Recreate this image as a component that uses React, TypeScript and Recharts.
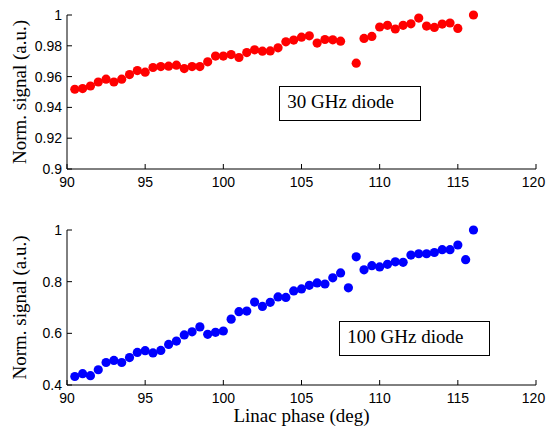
import { ScatterChart, Scatter, XAxis, YAxis } from 'recharts';

// linac phase (deg) and normalised signal
const phase30 = [
  90.5, 91, 91.5, 92, 92.5, 93, 93.5, 94, 94.5, 95, 95.5, 96, 96.5, 97, 97.5, 98, 98.5, 99,
  99.5, 100, 100.5, 101, 101.5, 102, 102.5, 103, 103.5, 104, 104.5, 105, 105.5, 106, 106.5,
  107, 107.5, 108.5, 109, 109.5, 110, 110.5, 111, 111.5, 112, 112.5, 113, 113.5, 114, 114.5,
  115, 116,
];
const signal30 = [
  0.9518, 0.9522, 0.9539, 0.9565, 0.9583, 0.9565, 0.9583, 0.9613, 0.9639, 0.9629, 0.9659,
  0.9665, 0.9668, 0.9674, 0.9652, 0.9665, 0.9665, 0.9696, 0.9733, 0.9733, 0.9743, 0.9724,
  0.9756, 0.9774, 0.9765, 0.9767, 0.9787, 0.9826, 0.9837, 0.9856, 0.9865, 0.9818, 0.9841,
  0.9839, 0.983, 0.9687, 0.9848, 0.9861, 0.9922, 0.9933, 0.9909, 0.9933, 0.9943, 0.998,
  0.9928, 0.9919, 0.9941, 0.9948, 0.9913, 1.0,
];

const phase100 = [
  90.5, 91, 91.5, 92, 92.5, 93, 93.5, 94, 94.5, 95, 95.5, 96, 96.5, 97, 97.5, 98, 98.5, 99,
  99.5, 100, 100.5, 101, 101.5, 102, 102.5, 103, 103.5, 104, 104.5, 105, 105.5, 106, 106.5,
  107, 107.5, 108, 108.5, 109, 109.5, 110, 110.5, 111, 111.5, 112, 112.5, 113, 113.5, 114,
  114.5, 115, 115.5, 116,
];
const signal100 = [
  0.433, 0.444, 0.436, 0.459, 0.487, 0.495, 0.487, 0.506, 0.526, 0.533, 0.524, 0.534, 0.557,
  0.57, 0.594, 0.606, 0.625, 0.596, 0.604, 0.609, 0.655, 0.684, 0.686, 0.721, 0.704, 0.72,
  0.741, 0.739, 0.764, 0.772, 0.786, 0.795, 0.791, 0.815, 0.834, 0.776, 0.896, 0.846, 0.862,
  0.857, 0.867, 0.877, 0.875, 0.903, 0.908, 0.908, 0.913, 0.924, 0.924, 0.942, 0.885, 1.0,
];

const phaseTicks = [90, 95, 100, 105, 110, 115, 120];
const ticks30 = [0.9, 0.92, 0.94, 0.96, 0.98, 1];
const ticks100 = [0.4, 0.6, 0.8, 1];

const sans = '"Liberation Sans", Arial, Helvetica, sans-serif';
const serif = '"Liberation Serif", "Times New Roman", serif';

const dot = (color: string) => (props: any) => (
  <circle cx={props.cx} cy={props.cy} r={4.6} fill={color} />
);

// x tick label; the last one is nudged left so it stays inside the page
const PhaseTick = (props: any) => {
  const { x, y, payload } = props;
  const last = payload.value === phaseTicks[phaseTicks.length - 1];
  return (
    <text x={last ? x - 2.5 : x} y={y} dy="0.71em" textAnchor="middle" fontSize={14} fontFamily={sans} fill="#000">
      {payload.value}
    </text>
  );
};

interface PanelProps {
  xs: number[];
  ys: number[];
  color: string;
  yDomain: [number, number];
  yTicks: number[];
  height: number;
  top: number;
  xAxisHeight: number;
  xLabel?: string;
}

function Panel({ xs, ys, color, yDomain, yTicks, height, top, xAxisHeight, xLabel }: PanelProps) {
  const data = xs.map((x, i) => ({ x, y: ys[i] }));
  return (
    <ScatterChart width={546} height={height} margin={{ top, right: 10, bottom: 0, left: 0 }}>
      <XAxis
        dataKey="x"
        type="number"
        domain={[90, 120]}
        ticks={phaseTicks}
        interval={0}
        tickSize={-5}
        tickMargin={13}
        height={xAxisHeight}
        stroke="#000"
        tick={<PhaseTick />}
        label={
          xLabel
            ? { value: xLabel, position: 'insideBottom', offset: 4, style: { fontFamily: serif, fontSize: 19, fill: '#000' } }
            : undefined
        }
      />
      <XAxis xAxisId="top" orientation="top" type="number" domain={[90, 120]} ticks={phaseTicks} interval={0} tickSize={-5} height={0} tick={false} stroke="#000" />
      <YAxis
        dataKey="y"
        type="number"
        domain={yDomain}
        ticks={yTicks}
        interval={0}
        tickSize={-5}
        tickMargin={10}
        width={67}
        stroke="#000"
        tick={{ fontSize: 14, fill: '#000', fontFamily: sans }}
        tickFormatter={(v) => String(v)}
        label={{
          value: 'Norm. signal (a.u.)',
          angle: -90,
          position: 'insideLeft',
          offset: 19,
          style: { textAnchor: 'middle', fontFamily: serif, fontSize: 19, fill: '#000' },
        }}
      />
      <YAxis yAxisId="right" orientation="right" type="number" domain={yDomain} ticks={yTicks} interval={0} tickSize={-5} width={0} tick={false} stroke="#000" />
      <Scatter data={data} fill={color} shape={dot(color)} isAnimationActive={false} />
    </ScatterChart>
  );
}

export default function App() {
  return (
    <div style={{ position: 'absolute', left: 0, top: 0, width: 546, height: 426, background: '#fff' }}>
      <Panel xs={phase30} ys={signal30} color="#ff0000" yDomain={[0.9, 1]} yTicks={ticks30} height={200} top={15} xAxisHeight={31} />
      <Panel
        xs={phase100}
        ys={signal100}
        color="#0000ff"
        yDomain={[0.4, 1]}
        yTicks={ticks100}
        height={226}
        top={30}
        xAxisHeight={41}
        xLabel="Linac phase (deg)"
      />
      <svg width={546} height={426} style={{ position: 'absolute', left: 0, top: 0, pointerEvents: 'none' }}>
        <rect x={279.5} y={86.5} width={141} height={34} fill="#fff" stroke="#000" strokeWidth={1} />
        <text x={287.3} y={108.3} fontFamily={serif} fontSize={19} fill="#000">30 GHz diode</text>
        <rect x={339.5} y={321.5} width={150} height={34} fill="#fff" stroke="#000" strokeWidth={1} />
        <text x={347.3} y={343.3} fontFamily={serif} fontSize={19} fill="#000">100 GHz diode</text>
      </svg>
    </div>
  );
}
